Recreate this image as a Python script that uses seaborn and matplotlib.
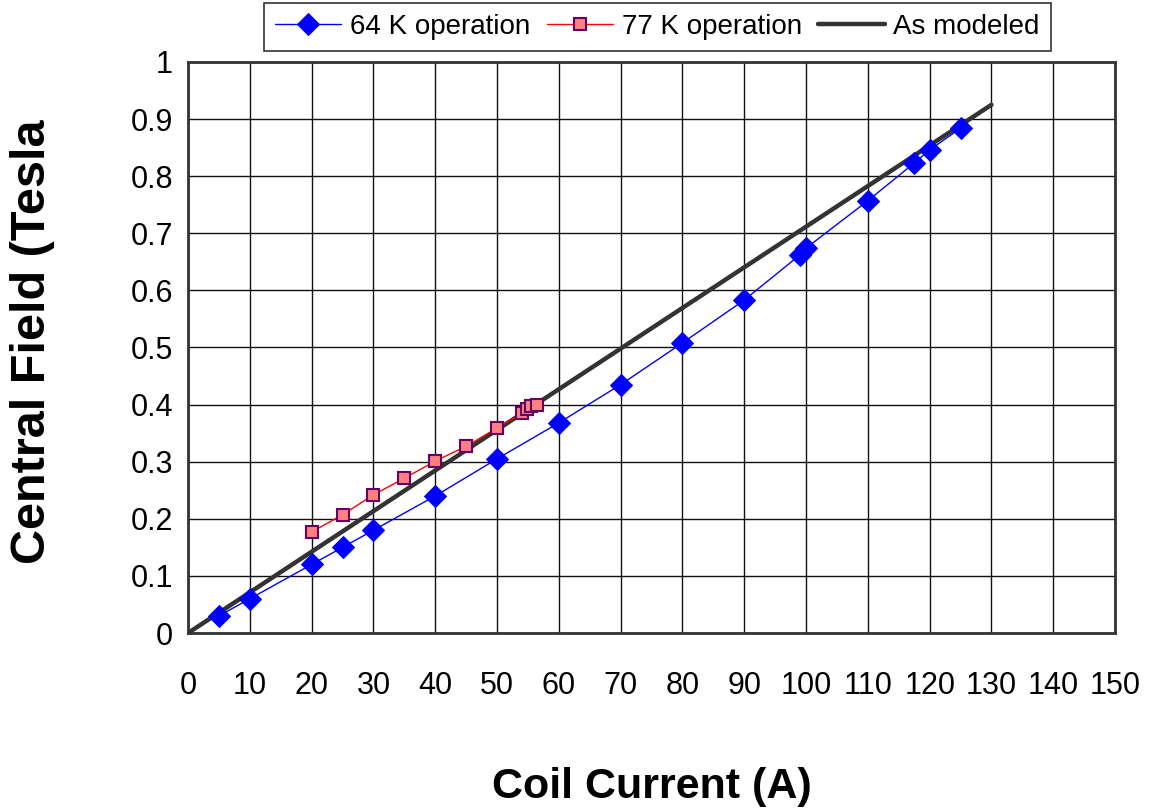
import matplotlib
matplotlib.use('Agg')
import matplotlib.pyplot as plt
import seaborn as sns

# data
current_64k = [5, 10, 20, 25, 30, 40, 50, 60, 70, 80, 90, 99, 100, 110, 117.5, 120, 125]
field_64k = [0.03, 0.06, 0.12, 0.15, 0.18, 0.24, 0.305, 0.368, 0.435, 0.508, 0.583,
             0.662, 0.674, 0.757, 0.823, 0.846, 0.884]

current_77k = [20, 25, 30, 35, 40, 45, 50, 54, 54.8, 55.5, 56.5]
field_77k = [0.177, 0.207, 0.242, 0.271, 0.301, 0.327, 0.359, 0.385, 0.392, 0.397, 0.399]

current_model = [0, 130]
field_model = [0, 0.925]

x_ticks = list(range(0, 151, 10))
y_ticks = [0, 0.1, 0.2, 0.3, 0.4, 0.5, 0.6, 0.7, 0.8, 0.9, 1]
y_tick_labels = ['0', '0.1', '0.2', '0.3', '0.4', '0.5', '0.6', '0.7', '0.8', '0.9', '1']

sns.set_style('white')
plt.rcParams['font.family'] = ['Liberation Sans', 'DejaVu Sans']
plt.rcParams['text.color'] = 'black'
plt.rcParams['axes.labelcolor'] = 'black'

fig = plt.figure(figsize=(11.55, 8.1), dpi=100)
ax = fig.add_axes([0.1628, 0.2185, 0.8026, 0.705])

sns.lineplot(x=current_64k, y=field_64k, ax=ax, estimator=None, sort=False,
             color='#0000FF', linewidth=1, marker='D', markersize=11,
             markeredgecolor='#0000FF', label='64 K operation', zorder=4)
sns.lineplot(x=current_77k, y=field_77k, ax=ax, estimator=None, sort=False,
             color='#FF0000', linewidth=1, marker='s', markersize=8,
             markerfacecolor='#FF8080', markeredgecolor='#660066', markeredgewidth=1.5,
             label='77 K operation', zorder=5)
sns.lineplot(x=current_model, y=field_model, ax=ax, estimator=None, sort=False,
             color='#333333', linewidth=3.2, label='As modeled', zorder=3)

ax.set_xlim(0, 150)
ax.set_ylim(0, 1)
ax.set_xticks(x_ticks)
ax.set_yticks(y_ticks)
ax.set_yticklabels(y_tick_labels)
ax.grid(True, color='#111111', linewidth=1)
ax.set_axisbelow(True)

for side in ['left', 'bottom', 'top', 'right']:
    ax.spines[side].set_color('#333333')
    ax.spines[side].set_linewidth(2)

ax.tick_params(axis='both', direction='out', length=7, width=1, color='#333333',
               labelsize=22, labelcolor='black')
ax.tick_params(axis='x', pad=20)
ax.tick_params(axis='y', pad=4)

ax.set_xlabel('Coil Current (A)', fontsize=31, fontweight='bold', color='black')
ax.set_ylabel('Central Field (Tesla', fontsize=35, fontweight='bold', color='black')
ax.xaxis.set_label_coords(0.5, -0.235)
ax.yaxis.set_label_coords(-0.143, 0.51)

handles, labels = ax.get_legend_handles_labels()
ax.get_legend().remove()
leg = fig.legend(handles, labels, loc='center', bbox_to_anchor=(0.569, 0.967), ncol=3,
                 fontsize=20, frameon=True, fancybox=False, edgecolor='black',
                 handlelength=2.4, handletextpad=0.3, columnspacing=0.6,
                 borderpad=0.4, borderaxespad=0, labelcolor='black')
leg.get_frame().set_linewidth(1.2)

fig.savefig('out.png', dpi=100)
